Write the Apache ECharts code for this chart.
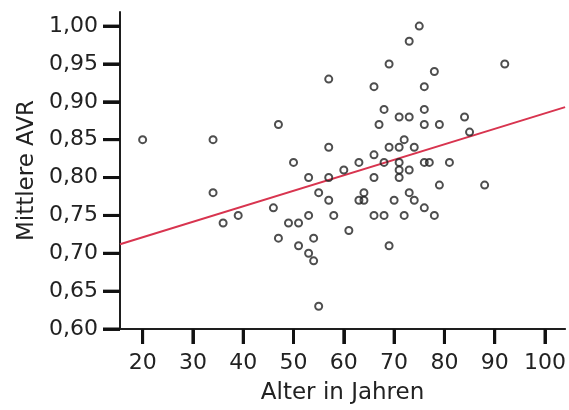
<!DOCTYPE html>
<html>
<head>
<meta charset="utf-8">
<script src="https://cdn.jsdelivr.net/npm/echarts@6/dist/echarts.min.js"></script>
<style>
html,body{margin:0;padding:0;background:#fff;}
#c{width:569px;height:410px;}
</style>
</head>
<body>
<div id="c"></div>
<script>
// Data
const ageYears = [20,34,34,36,39,46,47,47,49,50,51,51,53,53,53,54,54,55,55,57,57,57,57,58,60,61,63,63,64,64,66,66,66,66,67,68,68,68,69,69,69,70,71,71,71,71,71,72,72,73,73,73,73,74,74,75,76,76,76,76,76,77,78,78,79,79,81,84,85,88,92];
const meanAVR = [0.85,0.85,0.78,0.74,0.75,0.76,0.87,0.72,0.74,0.82,0.74,0.71,0.80,0.75,0.70,0.72,0.69,0.78,0.63,0.93,0.84,0.80,0.77,0.75,0.81,0.73,0.82,0.77,0.78,0.77,0.92,0.83,0.80,0.75,0.87,0.89,0.82,0.75,0.95,0.84,0.71,0.77,0.88,0.84,0.82,0.81,0.80,0.85,0.75,0.98,0.88,0.81,0.78,0.84,0.77,1.00,0.92,0.89,0.87,0.82,0.76,0.82,0.94,0.75,0.87,0.79,0.82,0.88,0.86,0.79,0.95];
const fitX = [15.5, 104];
const fitY = [0.712, 0.893];
const xTicks = [20,30,40,50,60,70,80,90,100];
const yTicks = [0.60,0.65,0.70,0.75,0.80,0.85,0.90,0.95,1.00];
const xTitle = 'Alter in Jahren';
const yTitle = 'Mittlere AVR';

const X_MIN = 15.5, X_MAX = 104, Y_MIN = 0.6, Y_MAX = 1.0186;
const chart = echarts.init(document.getElementById('c'), null, {renderer:'canvas'});
const font = 'DejaVu Sans';
const axisCol = '#1e1e1e';
const X_TICK_LEN = 15, Y_TICK_LEN = 17;

function tickSeries(values, isX){
  return {
    type:'custom', silent:true, clip:false, z:30, zlevel:1,
    data: values.map(v => isX ? [v, Y_MIN] : [X_MIN, v]),
    renderItem:(params, api) => {
      const p = api.coord([api.value(0), api.value(1)]);
      const shape = isX ? {x1:p[0], y1:p[1], x2:p[0], y2:p[1]+X_TICK_LEN}
                        : {x1:p[0]-Y_TICK_LEN, y1:p[1], x2:p[0], y2:p[1]};
      return {type:'line', shape, style:{stroke:'#111', lineWidth:3}};
    }
  };
}

chart.setOption({
  backgroundColor:'#fff',
  animation:false,
  grid:{left:120, right:0, top:12, bottom:79, containLabel:false},
  xAxis:{
    type:'value', min:X_MIN, max:X_MAX,
    name:xTitle, nameLocation:'middle', nameGap:53,
    nameTextStyle:{fontFamily:font, fontSize:23, color:'#222'},
    axisLine:{show:true, onZero:false, lineStyle:{color:axisCol, width:2}},
    axisTick:{show:true, length:X_TICK_LEN, customValues:xTicks, lineStyle:{color:axisCol, width:3}},
    axisLabel:{customValues:xTicks, margin:23, fontFamily:font, fontSize:22, color:'#222'},
    splitLine:{show:false}
  },
  yAxis:{
    type:'value', min:Y_MIN, max:Y_MAX,
    name:yTitle, nameLocation:'middle', nameGap:80, nameRotate:90,
    nameTextStyle:{fontFamily:font, fontSize:23, color:'#222'},
    axisLine:{show:true, onZero:false, lineStyle:{color:axisCol, width:2}},
    axisTick:{show:true, length:Y_TICK_LEN, customValues:yTicks, lineStyle:{color:axisCol, width:3}},
    axisLabel:{customValues:yTicks, margin:22, fontFamily:font, fontSize:22, color:'#222',
      formatter:v=>v.toFixed(2).replace('.',',')},
    splitLine:{show:false}
  },
  series:[
    {
      type:'line', data:fitX.map((x,i)=>[x,fitY[i]]), symbol:'none', z:1,
      lineStyle:{color:'#d8344f', width:2}
    },
    {
      type:'scatter', data:ageYears.map((x,i)=>[x,meanAVR[i]]), symbol:'circle', symbolSize:7, z:2,
      itemStyle:{color:'rgba(255,255,255,0)', borderColor:'#222', borderWidth:2}
    },
    tickSeries(xTicks, true),
    tickSeries(yTicks, false)
  ]
});
</script>
</body>
</html>
